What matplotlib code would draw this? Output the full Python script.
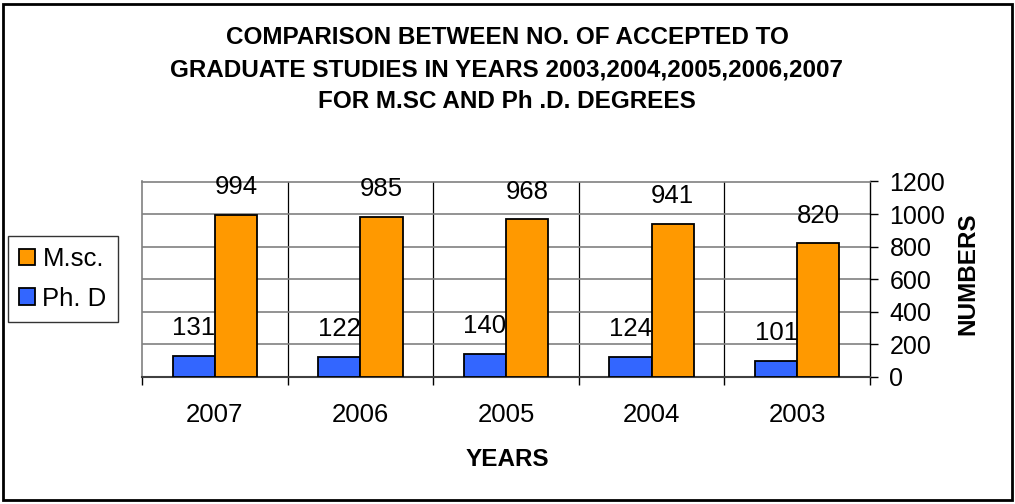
import numpy as np
import matplotlib.pyplot as plt
from matplotlib.patches import Rectangle

plt.rcParams['font.family'] = ['Liberation Sans', 'DejaVu Sans']

# Chart data
years = ["2007", "2006", "2005", "2004", "2003"]
phd = [131, 122, 140, 124, 101]
msc = [994, 985, 968, 941, 820]
title_lines = [
    "COMPARISON BETWEEN NO. OF ACCEPTED TO",
    "GRADUATE STUDIES IN YEARS 2003,2004,2005,2006,2007",
    "FOR M.SC AND Ph .D. DEGREES",
]

ORANGE = "#FF9900"
BLUE = "#3366FF"
W, H = 1015, 504

fig = plt.figure(figsize=(W / 100, H / 100), dpi=100)
ax = fig.add_axes([142 / W, 1 - 377 / H, 728 / W, (377 - 181.5) / H])

x = np.arange(len(years))
bw = 0.29
b1 = ax.bar(x - bw / 2, phd, bw, color=BLUE, edgecolor="black", linewidth=1.3,
            label="Ph. D", zorder=3)
b2 = ax.bar(x + bw / 2, msc, bw, color=ORANGE, edgecolor="black", linewidth=1.3,
            label="M.sc.", zorder=3)

# data labels above each bar
for bars, vals in ((b1, phd), (b2, msc)):
    for rect, v in zip(bars, vals):
        ax.annotate(str(v), (rect.get_x() + rect.get_width() / 2, v),
                    xytext=(0, 20), textcoords="offset points",
                    ha="center", va="center", fontsize=18.5)

ax.set_xlim(-0.5, len(years) - 0.5)
ax.set_ylim(0, 1200)

# y axis on the right
ax.yaxis.tick_right()
ax.set_yticks(np.arange(0, 1201, 200))
ax.tick_params(axis="y", direction="out", length=6, width=1, pad=8,
               labelsize=18, colors="black")
ax.yaxis.grid(True, color="#808080", linewidth=1.2, zorder=0)

# x axis: labels at centres, tick marks at category boundaries
ax.set_xticks(x)
ax.set_xticklabels(years)
ax.set_xticks(np.arange(-0.5, len(years), 1), minor=True)
ax.tick_params(axis="x", which="major", length=0, pad=19, labelsize=18.5)
ax.tick_params(axis="x", which="minor", direction="out", length=6, width=1,
               color="black")
for b in np.arange(0.5, len(years) - 1, 1):
    ax.axvline(b, color="black", linewidth=0.9, zorder=1)

ax.spines["top"].set_color("#808080")
ax.spines["top"].set_linewidth(1.2)
ax.spines["left"].set_color("#808080")
ax.spines["left"].set_linewidth(1.2)
ax.spines["right"].set_color("black")
ax.spines["right"].set_linewidth(1.0)
ax.spines["bottom"].set_color("#404040")
ax.spines["bottom"].set_linewidth(1.5)

# legend on the left (M.sc. first)
leg = fig.legend([b2, b1], ["M.sc.", "Ph. D"], loc="center",
                 bbox_to_anchor=(63 / W, 1 - 279 / H), fontsize=18.5,
                 frameon=True, fancybox=False, edgecolor="black",
                 handlelength=0.6, handleheight=0.6, handletextpad=0.3,
                 borderpad=0.45, labelspacing=0.6, borderaxespad=0)
leg.get_frame().set_linewidth(1.0)

# titles
for i, line in enumerate(title_lines):
    fig.text(507 / W, 1 - (38 + 32 * i) / H, line, ha="center", va="center",
             fontsize=17.5, fontweight="bold")

fig.text(507 / W, 1 - 460 / H, "YEARS", ha="center", va="center",
         fontsize=17.5, fontweight="bold")
fig.text(968 / W, 1 - 274 / H, "NUMBERS", ha="center", va="center",
         rotation=90, fontsize=17.5, fontweight="bold")

# outer border of the chart
fig.patches.append(Rectangle((3 / W, 4 / H), 1 - 6 / W, 1 - 8 / H,
                             transform=fig.transFigure, fill=False,
                             edgecolor="black", linewidth=2))

fig.savefig("out.png", dpi=100)
